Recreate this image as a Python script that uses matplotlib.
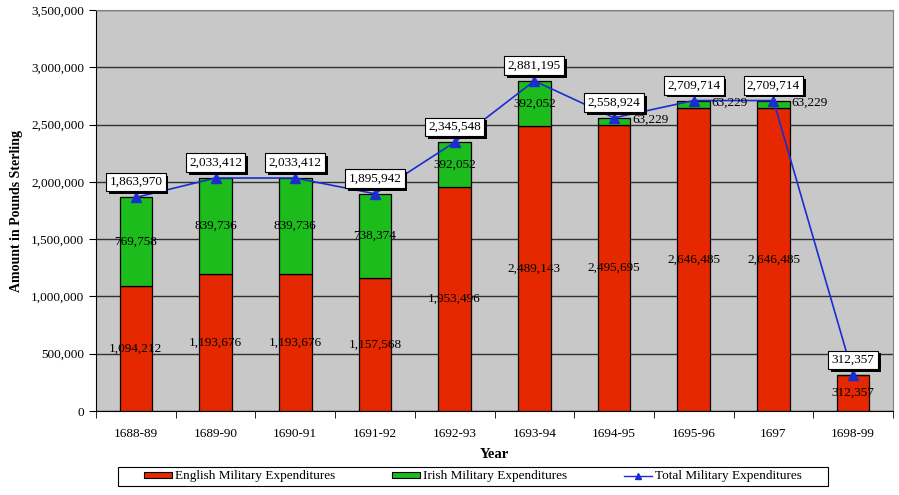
import matplotlib.pyplot as plt
import matplotlib.patheffects as pe
import numpy as np
from matplotlib.patches import Patch, Rectangle
from matplotlib.lines import Line2D

years = ['1688-89', '1689-90', '1690-91', '1691-92', '1692-93',
         '1693-94', '1694-95', '1695-96', '1697', '1698-99']
english = [1094212, 1193676, 1193676, 1157568, 1953496,
           2489143, 2495695, 2646485, 2646485, 312357]
irish = [769758, 839736, 839736, 738374, 392052,
         392052, 63229, 63229, 63229, 0]
total = [1863970, 2033412, 2033412, 1895942, 2345548,
         2881195, 2558924, 2709714, 2709714, 312357]

red = '#e52800'
green = '#1cbc1c'
blue = '#1a2dd0'
plt.rcParams['font.family'] = 'Liberation Serif'

fig = plt.figure(figsize=(8.99, 4.95), dpi=100)
ax = fig.add_axes([96/899, 84/495, 797/899, 401/495])
ax.set_facecolor('#c8c8c8')

x = np.arange(len(years))
w = 0.41
ax.bar(x, english, w, color=red, edgecolor='black', linewidth=0.9, zorder=3)
ax.bar(x, irish, w, bottom=english, color=green, edgecolor='black', linewidth=0.9, zorder=3)
ax.plot(x, total, color=blue, lw=1.2, marker='^', ms=7, zorder=5)

# segment labels
for i in range(len(years)):
    ax.text(x[i], english[i] / 2, f'{english[i]:,}', ha='center', va='center',
            fontsize=9.5, zorder=6)
    if irish[i] > 100000:
        ax.text(x[i], english[i] + irish[i] / 2, f'{irish[i]:,}', ha='center',
                va='center', fontsize=9.5, zorder=6)
    elif irish[i] > 0:
        ax.text(x[i] + w / 2 + 0.02, english[i] + irish[i] * 0.7, f'{irish[i]:,}',
                ha='left', va='center', fontsize=9.5, zorder=6)

# total labels, white boxes with a black drop shadow
for i in range(len(years)):
    t = ax.annotate(f'{total[i]:,}', (x[i], total[i]), xytext=(0, 11),
                    textcoords='offset points', ha='center', va='center',
                    fontsize=9.5, zorder=7,
                    bbox=dict(boxstyle='square,pad=0.25', fc='white', ec='black', lw=0.8))
    t.get_bbox_patch().set_path_effects([
        pe.SimplePatchShadow(offset=(2, -2), shadow_rgbFace='black', alpha=1),
        pe.Normal()])

ax.set_xlim(-0.5, len(years) - 0.5)
ax.set_ylim(0, 3500000)
ax.set_yticks(np.arange(0, 3500001, 500000))
ax.set_yticklabels([f'{v:,}' for v in range(0, 3500001, 500000)], fontsize=9.5)
ax.yaxis.grid(True, color='#303030', lw=1, zorder=1)
ax.set_xticks(x)
ax.set_xticklabels(years, fontsize=9.5)
ax.set_xticks(np.arange(-0.5, len(years), 1), minor=True)
ax.tick_params(axis='x', which='major', length=0, pad=12)
ax.tick_params(axis='x', which='minor', length=5, direction='out')
ax.tick_params(axis='y', length=5, direction='out')
for s in ['top', 'right']:
    ax.spines[s].set_color('#808080')

ax.set_xlabel('Year', fontsize=10.5, fontweight='bold', labelpad=6)
ax.set_ylabel('Amount in Pounds Sterling', fontsize=10, fontweight='bold', labelpad=6)

handles = [Patch(fc=red, ec='black', lw=0.8),
           Patch(fc=green, ec='black', lw=0.8),
           Line2D([], [], color=blue, marker='^', ms=5, lw=1)]
labels = ['English Military Expenditures', 'Irish Military Expenditures',
          'Total Military Expenditures']
leg = fig.legend(handles, labels, loc='center', ncol=3,
                 bbox_to_anchor=(473/899, 1 - 476.5/495),
                 fontsize=9.5, frameon=False,
                 handlelength=2.1, handleheight=0.35, handletextpad=0.25,
                 columnspacing=4.3, borderpad=0.1)
fig.patches.append(Rectangle((118/899, 1 - 486/495), 710/899, 19/495,
                             transform=fig.transFigure, fill=False,
                             ec='black', lw=0.8))

fig.savefig('out.png', dpi=100)
